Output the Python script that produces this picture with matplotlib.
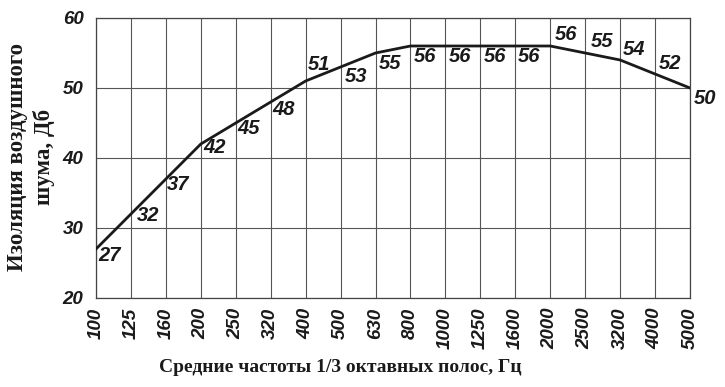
import numpy as np
import matplotlib.pyplot as plt

# частоты 1/3 октавных полос, Гц
freqs = [100, 125, 160, 200, 250, 320, 400, 500, 630, 800,
         1000, 1250, 1600, 2000, 2500, 3200, 4000, 5000]
# изоляция воздушного шума, Дб
insul = [27, 32, 37, 42, 45, 48, 51, 53, 55, 56,
         56, 56, 56, 56, 55, 54, 52, 50]

# смещение подписей (в пикселях) от точки
lbl_dx = [2, 6, 1, 3, 2, 2, 2, 4, 3, 3, 3, 3, 3, 5, 6, 3, 4, 4]
lbl_dy = [-7, -2, -6, -4, -6, -8, 16, -10, -11, -11, -11, -11, -11, 11, 11, 10, 10, -11]

fig = plt.figure(figsize=(7.25, 3.87), dpi=100)
ax = fig.add_axes([96 / 725, 0.230, (690 - 96) / 725, 0.9535 - 0.230])

x = np.arange(len(freqs))
ax.plot(x, insul, color='#1a1a1a', lw=2.0, solid_joinstyle='miter', zorder=3)

for i in range(len(freqs)):
    ax.annotate(str(insul[i]), (x[i], insul[i]), xytext=(lbl_dx[i], lbl_dy[i]),
                textcoords='offset pixels', ha='left', va='center',
                fontsize=14.5, fontweight='bold', fontstyle='italic',
                family='Liberation Sans', color='#1a1a1a', zorder=4)

ax.set_xlim(0, len(freqs) - 1)
ax.set_ylim(20, 60)
ax.set_xticks(x)
ax.set_xticklabels([str(f) for f in freqs], rotation=90, ha='center', va='top')
ax.set_yticks([20, 30, 40, 50, 60])

for t in ax.get_xticklabels() + ax.get_yticklabels():
    t.set_family('Liberation Sans')
    t.set_fontweight('bold')
    t.set_fontstyle('italic')
    t.set_fontsize(13.5)
    t.set_color('#1a1a1a')

ax.tick_params(axis='both', length=0)
ax.tick_params(axis='y', pad=9)
ax.tick_params(axis='x', pad=7)
ax.grid(True, color='#555555', lw=0.8)
ax.set_axisbelow(True)
for s in ax.spines.values():
    s.set_color('#444444')
    s.set_linewidth(0.9)

fig.text(340 / 725, 1 - 368 / 387, 'Средние частоты 1/3 октавных полос, Гц',
         ha='center', va='center', fontsize=14, fontweight='bold',
         family='Liberation Serif', color='#1a1a1a')
fig.text(31 / 725, 1 - 157 / 387, 'Изоляция воздушного\nшума, Дб',
         ha='center', va='center', rotation=90, fontsize=16.5, fontweight='bold',
         family='Liberation Serif', color='#1a1a1a', linespacing=1.35,
         multialignment='center')

fig.savefig('out.png', dpi=100)
